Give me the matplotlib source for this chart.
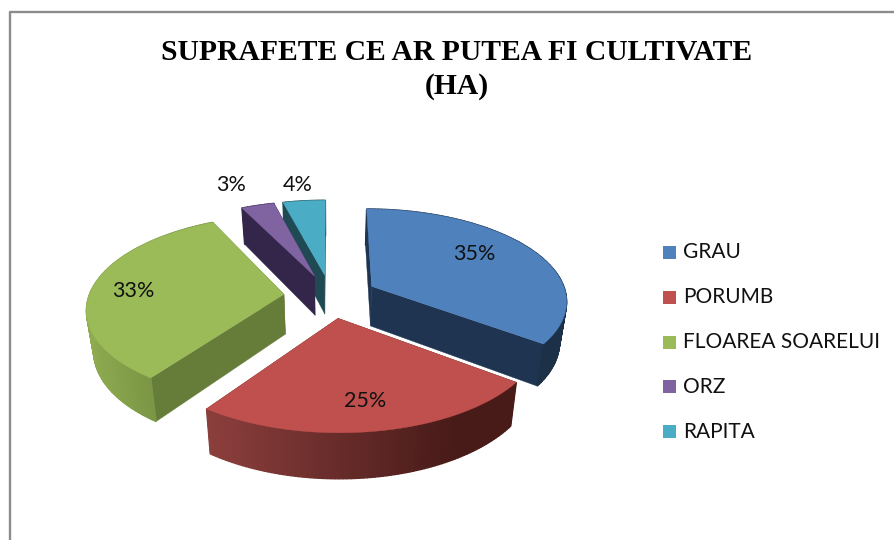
import numpy as np
import matplotlib
matplotlib.use("Agg")
import matplotlib.pyplot as plt
from matplotlib.colors import to_rgb
from matplotlib.patches import Polygon, Rectangle

categories = ["GRAU", "PORUMB", "FLOAREA SOARELUI", "ORZ", "RAPITA"]
percents = [35.2, 24.6, 32.9, 3.2, 4.1]
title_lines = ["SUPRAFETE CE AR PUTEA FI CULTIVATE", "(HA)"]

top_colors = ["#4f81bd", "#c0504d", "#9bbb59", "#8064a2", "#4bacc6"]
edge_colors = ["#1e3450", "#4e1f1d", "#667d3a", "#33264a", "#1f4a54"]
rim_left = ["#1e3450", "#8c3f3d", "#8fab50", "#33264a", "#1f4a54"]
rim_right = ["#1c3048", "#481b19", "#6f8a3e", "#33264a", "#1f4a54"]

# projection of the tilted disc, in image pixels
CX, CY = 330.5, 296
RX, RY, PERSP = 195, 91, 0.143
DEPTH, SHRINK, RY_BOTTOM = 40, 0.97, 95
EXPLODE = 0.24
label_pos = [(474, 254), (365, 401), (133, 291), (231, 185), (298, 185)]


def project(u, v, bottom=False):
    w = 1 - PERSP * v
    if bottom:
        return CX + RX * SHRINK * u / w, CY + DEPTH + RY_BOTTOM * v / w
    return CX + RX * u / w, CY + RY * v / w


def draw_slice(ax, i, a0, a1):
    mid = np.radians((a0 + a1) / 2)
    u0, v0 = EXPLODE * np.sin(mid), -EXPLODE * np.cos(mid)
    t = np.radians(np.linspace(a0, a1, max(int(a1 - a0), 2) + 1))
    u = u0 + np.sin(t)
    v = v0 - np.cos(t)
    xt, yt = project(u, v)
    xb, yb = project(u, v, True)
    ax0t, ay0t = project(u0, v0)
    ax0b, ay0b = project(u0, v0, True)

    for j in [0, -1]:
        quad = [(ax0t, ay0t), (xt[j], yt[j]), (xb[j], yb[j]), (ax0b, ay0b)]
        ax.add_patch(Polygon(quad, fc=edge_colors[i], ec=edge_colors[i], lw=0.3))

    c0 = np.array(to_rgb(rim_left[i]))
    c1 = np.array(to_rgb(rim_right[i]))
    xmin, xmax = xt.min(), xt.max()
    # one quad per degree, drawn from the back so the seams do not show
    for j in range(len(t) - 1):
        f = min((xt[j] - xmin) / max(xmax - xmin, 1) / 0.8, 1)
        col = c0 + (c1 - c0) * f
        quad = [(xt[j], yt[j]), (xt[j + 1], yt[j + 1]), (xb[j + 1], yb[j + 1]), (xb[j], yb[j])]
        ax.add_patch(Polygon(quad, fc=col, ec=col, lw=1.0))

    pts = [(ax0t, ay0t)] + list(zip(xt, yt))
    ax.add_patch(Polygon(pts, fc=top_colors[i], ec=top_colors[i], lw=0.3))


fig = plt.figure(figsize=(8.94, 5.40), dpi=100)
ax = fig.add_axes([0, 0, 1, 1])
ax.set_xlim(0, 894)
ax.set_ylim(540, 0)
ax.axis("off")

# chart frame, cropped at right and bottom
ax.plot([10, 10, 894], [540, 11.5, 11.5], color="#8c8c8c", lw=1.7)

total = sum(percents)
starts = np.cumsum([0] + percents[:-1]) / total * 360
ends = np.cumsum(percents) / total * 360

for i in [4, 3, 2, 0, 1]:
    draw_slice(ax, i, starts[i], ends[i])

for i, p in enumerate(percents):
    ax.text(label_pos[i][0], label_pos[i][1], f"{p:.0f}%", family="Lato", fontsize=15.5,
            ha="center", va="center", color="#111111")

ax.text(457, 53, title_lines[0], family="Liberation Serif", weight="bold", fontsize=21.3,
        ha="center", va="center", color="black")
ax.text(457, 87, title_lines[1], family="Liberation Serif", weight="bold", fontsize=21.3,
        ha="center", va="center", color="black")

for i, name in enumerate(categories):
    y = 252.5 + 44.75 * i
    ax.add_patch(Rectangle((663, y - 6.5), 13, 13, fc=top_colors[i], ec="none"))
    ax.text(683, y, name, family="Lato", fontsize=15, ha="left", va="center", color="#111111")

fig.savefig("out.png", dpi=100)
